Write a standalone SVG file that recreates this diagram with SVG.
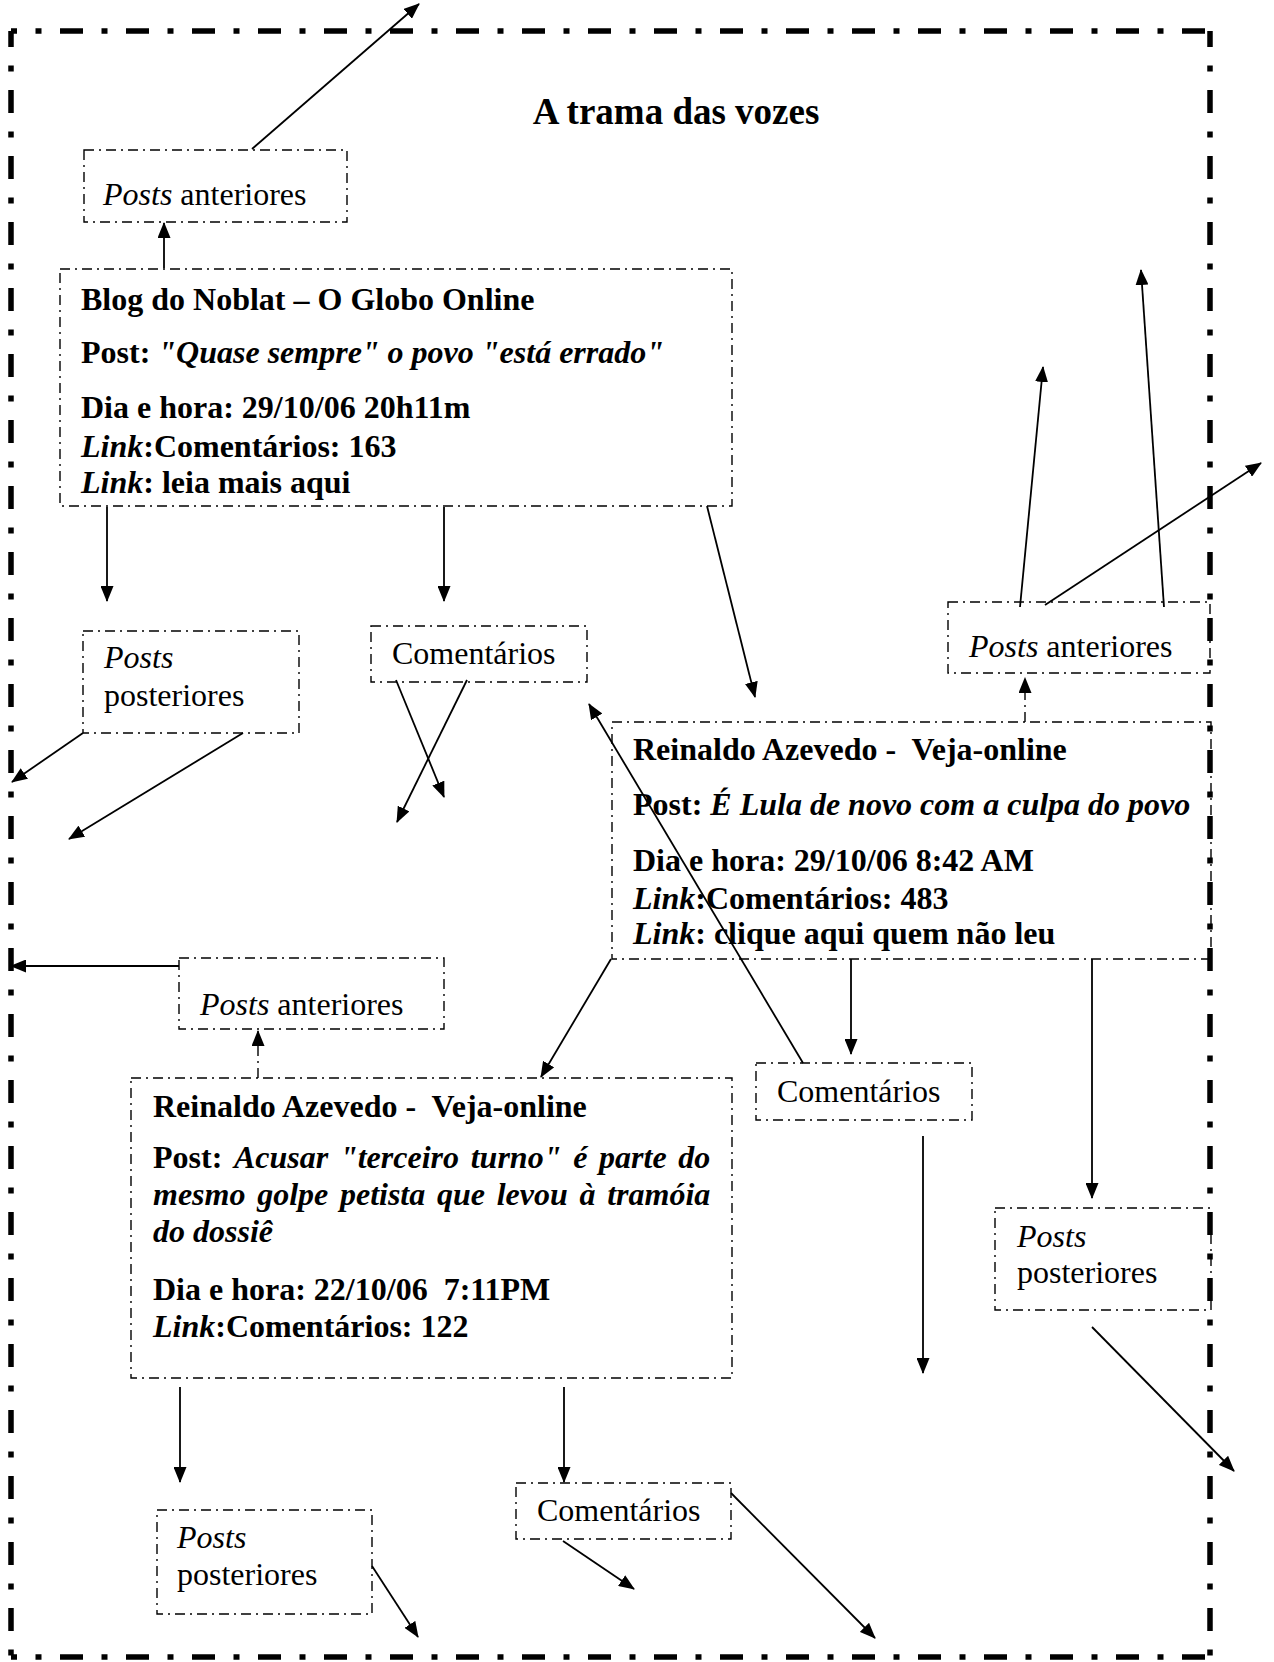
<svg xmlns="http://www.w3.org/2000/svg" width="1274" height="1662" viewBox="0 0 1274 1662">
<style>
  .t { font-family: "Liberation Serif", "Times New Roman", serif; font-size: 32px; fill: #000; }
  .title { font-family: "Liberation Serif", "Times New Roman", serif; font-size: 37px; font-weight: bold; fill: #000; }
  .b { font-weight: bold; }
  .i { font-style: italic; }
  .box { fill: none; stroke: #000; stroke-width: 1.4; stroke-dasharray: 10 5 2 5; }
  .frame { fill: none; stroke: #000; stroke-width: 5.5; stroke-dasharray: 23 18.5 6 18.5; }
  .arr { fill: none; stroke: #000; stroke-width: 1.8; marker-end: url(#ah); }
  .darr { fill: none; stroke: #000; stroke-width: 1.4; stroke-dasharray: 10 5 2 5; marker-end: url(#ah); }
</style>
<defs>
  <marker id="ah" viewBox="0 0 16 13" refX="15" refY="6.5" markerWidth="16" markerHeight="13" markerUnits="userSpaceOnUse" orient="auto">
    <path d="M0,0 L16,6.5 L0,13 Z" fill="#000"/>
  </marker>
</defs>
<rect width="1274" height="1662" fill="#fff"/>

<g id="frame">
  <line class="frame" x1="11" y1="31" x2="1210" y2="31" stroke-dashoffset="17"/>
  <line class="frame" x1="11" y1="31" x2="11" y2="1657" stroke-dashoffset="7"/>
  <line class="frame" x1="1210" y1="31" x2="1210" y2="1657" stroke-dashoffset="7"/>
  <line class="frame" x1="11" y1="1657" x2="1210" y2="1657" stroke-dashoffset="17"/>
</g>

<g id="title">
  <text class="title" x="676" y="124" text-anchor="middle">A trama das vozes</text>
</g>

<g id="posts-anteriores-1">
  <rect class="box" x="84" y="150" width="263" height="72"/>
  <text class="t" x="103" y="205"><tspan class="i">Posts</tspan> anteriores</text>
</g>

<g id="blog-noblat">
  <rect class="box" x="60" y="269" width="672" height="237"/>
  <text class="t b" x="81" y="310">Blog do Noblat – O Globo Online</text>
  <text class="t b" x="81" y="363">Post: <tspan class="i">"Quase sempre" o povo "está errado"</tspan></text>
  <text class="t b" x="81" y="418">Dia e hora: 29/10/06 20h11m</text>
  <text class="t b" x="81" y="457"><tspan class="i">Link</tspan>:Comentários: 163</text>
  <text class="t b" x="81" y="493"><tspan class="i">Link</tspan>: leia mais aqui</text>
</g>

<g id="posts-posteriores-1">
  <rect class="box" x="83" y="631" width="216" height="102"/>
  <text class="t i" x="104" y="668">Posts</text>
  <text class="t" x="104" y="706">posteriores</text>
</g>

<g id="comentarios-1">
  <rect class="box" x="371" y="626" width="216" height="56"/>
  <text class="t" x="392" y="664">Comentários</text>
</g>

<g id="posts-anteriores-2">
  <rect class="box" x="948" y="602" width="262" height="71"/>
  <text class="t" x="969" y="657"><tspan class="i">Posts</tspan> anteriores</text>
</g>

<g id="reinaldo-1">
  <rect class="box" x="612" y="722" width="599" height="237"/>
  <text class="t b" x="633" y="760" xml:space="preserve">Reinaldo Azevedo -  Veja-online</text>
  <text class="t b" x="633" y="815">Post: <tspan class="i">É Lula de novo com a culpa do povo</tspan></text>
  <text class="t b" x="633" y="871">Dia e hora: 29/10/06 8:42 AM</text>
  <text class="t b" x="633" y="909"><tspan class="i">Link</tspan>:Comentários: 483</text>
  <text class="t b" x="633" y="944"><tspan class="i">Link</tspan>: clique aqui quem não leu</text>
</g>

<g id="comentarios-2">
  <rect class="box" x="756" y="1063" width="216" height="57"/>
  <text class="t" x="777" y="1102">Comentários</text>
</g>

<g id="posts-posteriores-2">
  <rect class="box" x="995" y="1208" width="216" height="102"/>
  <text class="t i" x="1017" y="1247">Posts</text>
  <text class="t" x="1017" y="1283">posteriores</text>
</g>

<g id="posts-anteriores-3">
  <rect class="box" x="179" y="958" width="265" height="71"/>
  <text class="t" x="200" y="1015"><tspan class="i">Posts</tspan> anteriores</text>
</g>

<g id="reinaldo-2">
  <rect class="box" x="131" y="1078" width="601" height="300"/>
  <text class="t b" x="153" y="1117" xml:space="preserve">Reinaldo Azevedo -  Veja-online</text>
  <text class="t b" x="153" y="1168" word-spacing="3.7">Post: <tspan class="i">Acusar "terceiro turno" é parte do</tspan></text>
  <text class="t b i" x="153" y="1205" word-spacing="3.7">mesmo golpe petista que levou à tramóia</text>
  <text class="t b i" x="153" y="1242">do dossiê</text>
  <text class="t b" x="153" y="1300" xml:space="preserve">Dia e hora: 22/10/06  7:11PM</text>
  <text class="t b" x="153" y="1337"><tspan class="i">Link</tspan>:Comentários: 122</text>
</g>

<g id="posts-posteriores-3">
  <rect class="box" x="157" y="1510" width="215" height="104"/>
  <text class="t i" x="177" y="1548">Posts</text>
  <text class="t" x="177" y="1585">posteriores</text>
</g>

<g id="comentarios-3">
  <rect class="box" x="516" y="1483" width="215" height="56"/>
  <text class="t" x="537" y="1521">Comentários</text>
</g>

<g id="connectors">
  <line class="arr" x1="252" y1="149" x2="419" y2="4"/>
  <line class="arr" x1="164" y1="268" x2="164" y2="223"/>
  <line class="arr" x1="107" y1="507" x2="107" y2="601"/>
  <line class="arr" x1="444" y1="507" x2="444" y2="601"/>
  <line class="arr" x1="707" y1="506" x2="755" y2="697"/>
  <line class="arr" x1="83" y1="733" x2="12" y2="782"/>
  <line class="arr" x1="243" y1="733" x2="69" y2="839"/>
  <line class="arr" x1="396" y1="680" x2="444" y2="797"/>
  <line class="arr" x1="467" y1="680" x2="397" y2="822"/>
  <line class="arr" x1="1020" y1="607" x2="1043" y2="367"/>
  <line class="arr" x1="1045" y1="605" x2="1261" y2="463"/>
  <line class="arr" x1="1164" y1="607" x2="1141" y2="270"/>
  <line class="darr" x1="1025" y1="722" x2="1025" y2="678"/>
  <line class="arr" x1="803" y1="1063" x2="589" y2="704"/>
  <line class="arr" x1="611" y1="959" x2="541" y2="1077"/>
  <line class="arr" x1="851" y1="959" x2="851" y2="1054"/>
  <line class="arr" x1="1092" y1="959" x2="1092" y2="1198"/>
  <line class="arr" x1="923" y1="1136" x2="923" y2="1373"/>
  <line class="arr" x1="1092" y1="1327" x2="1234" y2="1471"/>
  <line class="arr" x1="179" y1="966" x2="11" y2="966"/>
  <line class="darr" x1="258" y1="1078" x2="258" y2="1031"/>
  <line class="arr" x1="180" y1="1387" x2="180" y2="1482"/>
  <line class="arr" x1="564" y1="1387" x2="564" y2="1482"/>
  <line class="arr" x1="372" y1="1566" x2="418" y2="1637"/>
  <line class="arr" x1="563" y1="1541" x2="634" y2="1589"/>
  <line class="arr" x1="731" y1="1493" x2="875" y2="1638"/>
</g>
</svg>
